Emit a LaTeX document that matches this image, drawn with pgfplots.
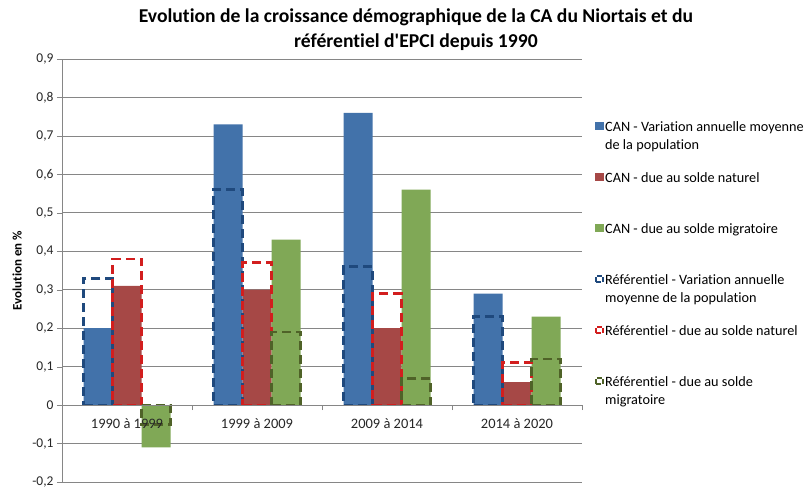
\documentclass[border=0pt]{standalone}
\usepackage{fontspec}
\setmainfont{Carlito}[Ligatures={NoCommon}]
\newfontfamily\titlefont{Carlito}[Ligatures={NoCommon}]
\usepackage{pgfplots}
\pgfplotsset{compat=1.18}
\definecolor{canblue}{RGB}{66,114,170}
\definecolor{canred}{RGB}{166,72,70}
\definecolor{cangreen}{RGB}{128,168,86}
\definecolor{refblue}{RGB}{31,73,125}
\definecolor{refred}{RGB}{210,30,30}
\definecolor{refgreen}{RGB}{79,98,40}
\definecolor{axgray}{RGB}{134,134,134}
\pgfplotsset{
  layers/mylayers/.define layer set={axis background,axis grid,main,axis ticks,axis lines,axis tick labels,axis descriptions,axis foreground}{/pgfplots/layers/standard},
}
\begin{document}
\begin{tikzpicture}
\begin{axis}[
  name=ax,
  set layers=mylayers,
  scale only axis,
  width=520bp, height=423bp,
  xmin=-0.5, xmax=3.5, ymin=-0.2, ymax=0.9,
  axis x line*=middle, axis y line*=left,
  x axis line style={-,draw=axgray},
  y axis line style={-,draw=axgray},
  ytick={-0.2,-0.1,0,0.1,0.2,0.3,0.4,0.5,0.6,0.7,0.8,0.9},
  yticklabel style={font=\fontsize{13.5}{16}\selectfont, /pgf/number format/.cd,fixed,use comma,precision=1,assume math mode=true},
  ymajorgrids, grid style={draw=axgray, line width=0.8bp},
  xtick={0,1,2,3},
  xticklabels={1990 à 1999,1999 à 2009,2009 à 2014,2014 à 2020},
  xticklabel style={yshift=-5bp, font=\fontsize{14.5}{17}\selectfont},
  minor xtick={0.5,1.5,2.5,3.5},
  major x tick style={draw=none},
  minor tick length=5bp, major tick length=5bp,
  tick align=outside,
  tick style={draw=axgray},
  ticklabel style={text=black!85},
  ylabel={\textbf{Evolution en \%}},
  ylabel style={at={(axis description cs:-0.0865,0.5)}, anchor=center, font=\fontsize{13}{15}\selectfont},
  ybar, bar width=29bp,
  legend style={at={(rel axis cs:1,1)}, anchor=north west, xshift=10bp, yshift=-57bp,
    draw=none, fill=none, font=\fontsize{14.3}{18}\selectfont,
    nodes={inner sep=1bp, align=left}, row sep=17bp},
  legend cell align=left,
]
\addplot[fill=canblue, draw=none, bar shift=-29bp,
  legend image code/.code={\fill[canblue] (0bp,5bp) rectangle (8.5bp,13.5bp);}]
  coordinates {(0,0.20) (1,0.73) (2,0.76) (3,0.29)};
\addlegendentry{\strut CAN - Variation annuelle moyenne\\\strut de la population}
\addplot[fill=canred, draw=none, bar shift=0bp,
  legend image code/.code={\fill[canred] (0bp,5bp) rectangle (8.5bp,13.5bp);}]
  coordinates {(0,0.31) (1,0.30) (2,0.20) (3,0.06)};
\addlegendentry{\strut CAN - due au solde naturel\\\strut}
\addplot[fill=cangreen, draw=none, bar shift=29bp,
  legend image code/.code={\fill[cangreen] (0bp,5bp) rectangle (8.5bp,13.5bp);}]
  coordinates {(0,-0.11) (1,0.43) (2,0.56) (3,0.23)};
\addlegendentry{\strut CAN - due au solde migratoire\\\strut}
\addplot[fill=none, draw=refblue, line width=2.8bp, dash pattern=on 9bp off 5bp, bar shift=-29bp,
  legend image code/.code={\draw[refblue,line width=2bp,dash pattern=on 5bp off 2.5bp] (1bp,6bp) rectangle (8bp,12.5bp);}]
  coordinates {(0,0.33) (1,0.56) (2,0.36) (3,0.23)};
\addlegendentry{\strut Référentiel - Variation annuelle\\\strut moyenne de la population}
\addplot[fill=none, draw=refred, line width=2.8bp, dash pattern=on 9bp off 5bp, bar shift=0bp,
  legend image code/.code={\draw[refred,line width=2bp,dash pattern=on 5bp off 2.5bp] (1bp,6bp) rectangle (8bp,12.5bp);}]
  coordinates {(0,0.38) (1,0.37) (2,0.29) (3,0.11)};
\addlegendentry{\strut Référentiel - due au solde naturel\\\strut}
\addplot[fill=none, draw=refgreen, line width=2.8bp, dash pattern=on 9bp off 5bp, bar shift=29bp,
  legend image code/.code={\draw[refgreen,line width=2bp,dash pattern=on 5bp off 2.5bp] (1bp,6bp) rectangle (8bp,12.5bp);}]
  coordinates {(0,-0.05) (1,0.19) (2,0.07) (3,0.12)};
\addlegendentry{\strut Référentiel - due au solde\\\strut migratoire}
\end{axis}
\node[font=\titlefont\bfseries\fontsize{19.7}{25}\selectfont, align=center, anchor=center]
  at ([xshift=354bp,yshift=452bp]ax.south west)
  {Evolution de la croissance démographique de la CA du Niortais et du\\référentiel d'EPCI depuis 1990};
\pgfresetboundingbox
\useasboundingbox ([xshift=-62bp,yshift=-10bp]ax.south west) rectangle ([xshift=747bp,yshift=482bp]ax.south west);
\end{tikzpicture}
\end{document}
